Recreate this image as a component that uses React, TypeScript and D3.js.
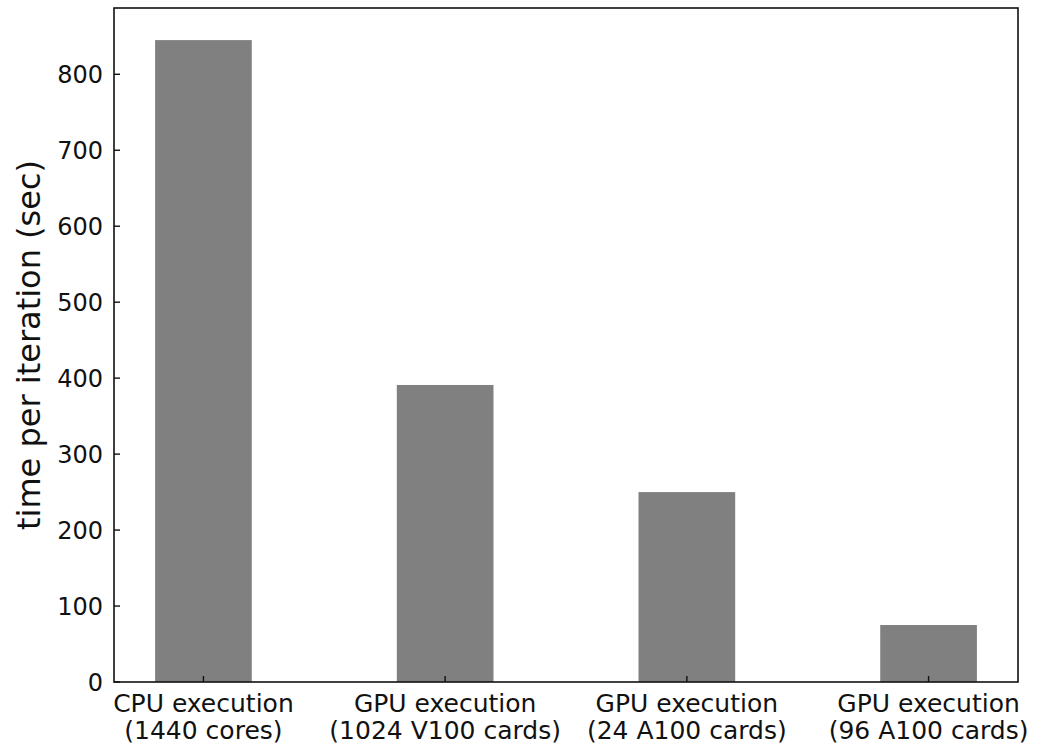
import React from "react";
import * as d3 from "d3";

const categories = [
  ["CPU execution", "(1440 cores)"],
  ["GPU execution", "(1024 V100 cards)"],
  ["GPU execution", "(24 A100 cards)"],
  ["GPU execution", "(96 A100 cards)"],
];
const values = [845, 391, 250, 75];
const yTicks = [0, 100, 200, 300, 400, 500, 600, 700, 800];

const W = 1038;
const H = 744;
const left = 114;
const right = 1018;
const top = 8;
const bottom = 682;
const font = "'DejaVu Sans', sans-serif";

export default function App() {
  const x = d3.scaleLinear().domain([-0.37, 3.37]).range([left, right]);
  const y = d3.scaleLinear().domain([0, 887.25]).range([bottom, top]);
  const bw = x(0.4) - x(0);
  return (
    <svg width={W} height={H} style={{ position: "absolute", left: 0, top: 0 }}>
      <rect x={0} y={0} width={W} height={H} fill="#fff" />
      {values.map((v, i) => (
        <rect key={i} x={x(i) - bw / 2} y={y(v)} width={bw} height={y(0) - y(v)} fill="#808080" />
      ))}
      <rect x={left} y={top} width={right - left} height={bottom - top} fill="none" stroke="#111" strokeWidth={1.6} />
      {yTicks.map((t) => (
        <g key={t}>
          <line x1={left} x2={left + 6} y1={y(t)} y2={y(t)} stroke="#111" strokeWidth={1.4} />
          <text x={left - 11} y={y(t)} dy="0.36em" textAnchor="end" fontFamily={font} fontSize={24} fill="#111">
            {t}
          </text>
        </g>
      ))}
      {categories.map((c, i) => (
        <g key={i}>
          <line x1={x(i)} x2={x(i)} y1={bottom} y2={bottom - 6} stroke="#111" strokeWidth={1.4} />
          <text x={x(i)} y={712} textAnchor="middle" fontFamily={font} fontSize={25} fill="#111">
            {c[0]}
          </text>
          <text x={x(i)} y={739} textAnchor="middle" fontFamily={font} fontSize={25} fill="#111">
            {c[1]}
          </text>
        </g>
      ))}
      <text
        transform={`translate(40, ${(top + bottom) / 2}) rotate(-90)`}
        textAnchor="middle"
        fontFamily={font}
        fontSize={32}
        fill="#111"
      >
        time per iteration (sec)
      </text>
    </svg>
  );
}
